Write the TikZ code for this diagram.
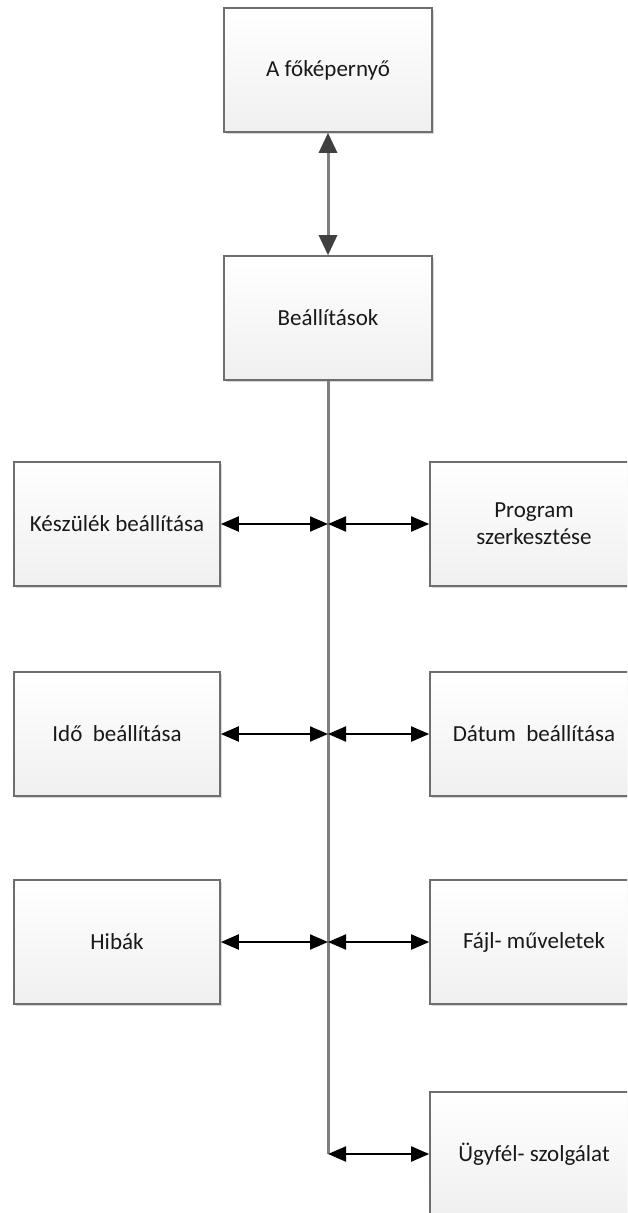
\documentclass[tikz,border=0pt]{standalone}
\usepackage{fontspec}
\setmainfont{Carlito}
\usetikzlibrary{arrows.meta,shadows}
\definecolor{boxline}{HTML}{6E6E6E}
\definecolor{spinegray}{HTML}{7F7F7F}
\definecolor{headgray}{HTML}{404040}
\tikzset{
  menubox/.style={draw=boxline,line width=1.6pt,top color=white,bottom color=black!6,
    minimum width=208pt,minimum height=124pt,align=center,text=black!90,
    font=\fontsize{23}{27}\selectfont,
    drop shadow={shadow xshift=2pt,shadow yshift=-2pt,opacity=0.25,fill=black!60}},
  leftbox/.style={menubox,minimum width=206pt},
  spine/.style={draw=spinegray,line width=3pt},
  toplink/.style={spinegray,line width=3pt,{Triangle[length=20pt,width=18pt,fill=headgray,color=headgray]}-{Triangle[length=20pt,width=18pt,fill=headgray,color=headgray]}},
  sublink/.style={black,line width=2pt,{Triangle[length=18pt,width=15pt]}-{Triangle[length=18pt,width=15pt]}}
}
\begin{document}
\begin{tikzpicture}
    [x=1pt,y=-1pt]
    \useasboundingbox (0,0) rectangle (627,1213);
    \clip (0,0) rectangle (627,1213);
    \fill[white] (0,0) rectangle (627,1213);
    %main boxes
    \node[menubox] (fokep) at (328,70) {A főképernyő};
    \node[menubox] (beall) at (328,318) {Beállítások};
    %left column
    \node[leftbox] (keszulek) at (117,524) {Készülék beállítása};
    \node[leftbox] (ido) at (117,734) {Idő~ beállítása};
    \node[leftbox] (hibak) at (117,942) {Hibák};
    %right column
    \node[menubox] (program) at (534,524) {Program\\szerkesztése};
    \node[menubox] (datum) at (534,734) {Dátum~ beállítása};
    \node[menubox] (fajl) at (534,942) {Fájl- műveletek};
    \node[menubox] (ugyfel) at (534,1154) {Ügyfél- szolgálat};
    %junctions on the spine
    \coordinate (j1) at (beall.south |- keszulek.east);
    \coordinate (j2) at (beall.south |- ido.east);
    \coordinate (j3) at (beall.south |- hibak.east);
    \coordinate (j4) at (beall.south |- ugyfel.west);
    %spine
    \draw[spine] (beall.south) -- (j4);
    \draw[toplink] (fokep.south) -- (beall.north);
    %branches
    \draw[sublink] (keszulek.east) -- (j1);
    \draw[sublink] (j1) -- (program.west);
    \draw[sublink] (ido.east) -- (j2);
    \draw[sublink] (j2) -- (datum.west);
    \draw[sublink] (hibak.east) -- (j3);
    \draw[sublink] (j3) -- (fajl.west);
    \draw[sublink] (j4) -- (ugyfel.west);
\end{tikzpicture}
\end{document}
